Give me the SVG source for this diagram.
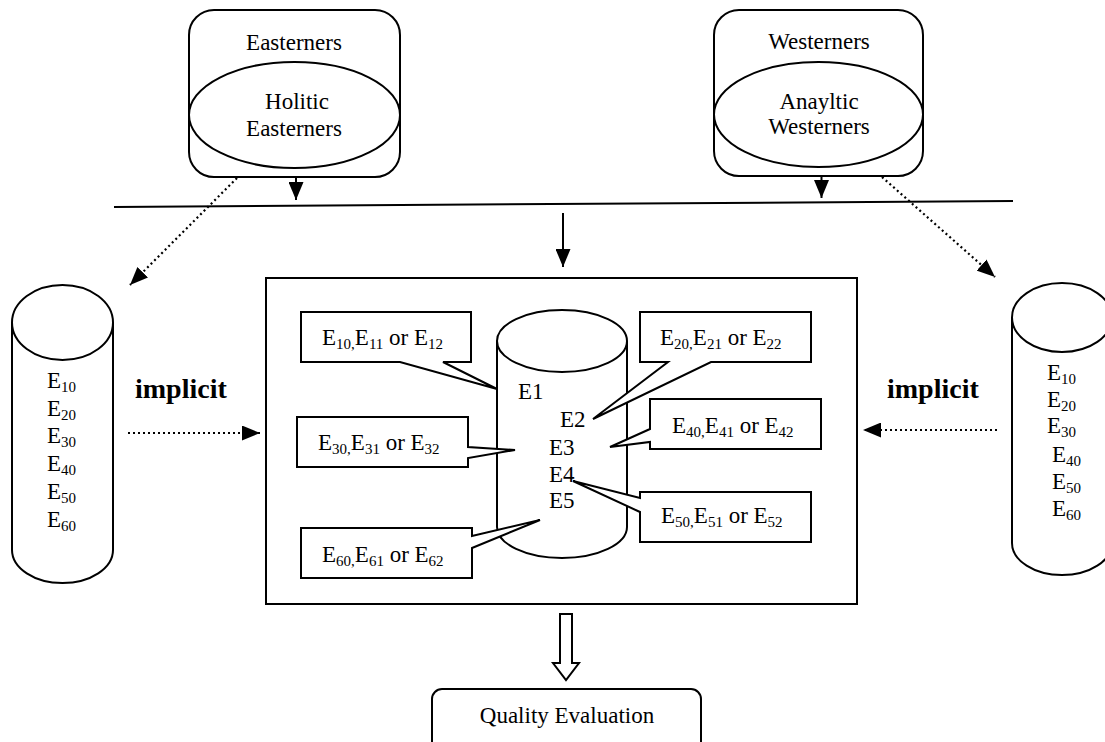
<svg xmlns="http://www.w3.org/2000/svg" width="1105" height="742" viewBox="0 0 1105 742" font-family="'Liberation Serif', 'Times New Roman', Times, 'DejaVu Serif', serif">
<style>
.s{fill:none;stroke:#000;stroke-width:2}
.w{fill:#fff;stroke:#000;stroke-width:2}
.t{font-size:23px;fill:#000}
.b{font-size:28px;font-weight:bold;fill:#000}
.sub{font-size:15px}
.dot{fill:none;stroke:#000;stroke-width:2.2;stroke-dasharray:2 3}
</style>
<defs>
<marker id="ah" markerUnits="userSpaceOnUse" markerWidth="18" markerHeight="15" refX="18" refY="7.5" orient="auto">
<path d="M0,0 L18,7.5 L0,15 Z" fill="#000"/>
</marker>
</defs>

<g id="easterners">
<rect class="w" x="189" y="10" width="211" height="167" rx="25"/>
<ellipse class="w" cx="294.5" cy="115" rx="105.5" ry="53"/>
<text class="t" x="294" y="50" text-anchor="middle">Easterners</text>
<text class="t" x="297" y="109" text-anchor="middle">Holitic</text>
<text class="t" x="294" y="136" text-anchor="middle">Easterners</text>
</g>

<g id="westerners">
<rect class="w" x="714" y="10" width="209" height="166" rx="25"/>
<ellipse class="w" cx="818.5" cy="114.5" rx="104.5" ry="52.5"/>
<text class="t" x="819" y="49" text-anchor="middle">Westerners</text>
<text class="t" x="819" y="109" text-anchor="middle">Anayltic</text>
<text class="t" x="819" y="134" text-anchor="middle">Westerners</text>
</g>

<g id="left-cylinder">
<path class="w" d="M12,322.5 V550 A50.5,33 0 0 0 113,550 V322.5"/>
<ellipse class="w" cx="62.5" cy="322.5" rx="50.5" ry="37.5"/>
<text class="t" x="47" y="388">E<tspan class="sub" dy="4">10</tspan></text>
<text class="t" x="47" y="416">E<tspan class="sub" dy="4">20</tspan></text>
<text class="t" x="47" y="443">E<tspan class="sub" dy="4">30</tspan></text>
<text class="t" x="47" y="471">E<tspan class="sub" dy="4">40</tspan></text>
<text class="t" x="47" y="499">E<tspan class="sub" dy="4">50</tspan></text>
<text class="t" x="47" y="527">E<tspan class="sub" dy="4">60</tspan></text>
</g>

<g id="right-cylinder">
<path class="w" d="M1012,317.5 V543 A50,32 0 0 0 1112,543 V317.5"/>
<ellipse class="w" cx="1062" cy="317.5" rx="50" ry="34.5"/>
<text class="t" x="1047" y="380">E<tspan class="sub" dy="4">10</tspan></text>
<text class="t" x="1047" y="407">E<tspan class="sub" dy="4">20</tspan></text>
<text class="t" x="1047" y="433">E<tspan class="sub" dy="4">30</tspan></text>
<text class="t" x="1052" y="462">E<tspan class="sub" dy="4">40</tspan></text>
<text class="t" x="1052" y="489">E<tspan class="sub" dy="4">50</tspan></text>
<text class="t" x="1052" y="516">E<tspan class="sub" dy="4">60</tspan></text>
</g>

<g id="implicit-left">
<text class="b" x="135" y="398">implicit</text>
</g>
<g id="implicit-right">
<text class="b" x="887" y="398">implicit</text>
</g>

<g id="main-box">
<rect class="w" x="266" y="278" width="591" height="326"/>
</g>

<g id="inner-cylinder">
<path class="w" d="M497,341 V527 A65,31 0 0 0 627,527 V341"/>
<ellipse class="w" cx="562" cy="341" rx="65" ry="31"/>
<text class="t" x="518" y="399">E1</text>
<text class="t" x="560" y="427">E2</text>
<text class="t" x="549" y="455">E3</text>
<text class="t" x="549" y="482">E4</text>
<text class="t" x="549" y="508">E5</text>
</g>

<g id="callout-1">
<path class="w" d="M301,312 H471 V362 H443 L497,389 L400,362 H301 Z"/>
<text class="t" x="322" y="345">E<tspan class="sub" dy="4">10,</tspan><tspan dy="-4">E</tspan><tspan class="sub" dy="4">11</tspan><tspan dy="-4"> or E</tspan><tspan class="sub" dy="4">12</tspan></text>
</g>
<g id="callout-3">
<path class="w" d="M297,417 H468 V447 L515,450 L468,458 V467 H297 Z"/>
<text class="t" x="318" y="450">E<tspan class="sub" dy="4">30,</tspan><tspan dy="-4">E</tspan><tspan class="sub" dy="4">31</tspan><tspan dy="-4"> or E</tspan><tspan class="sub" dy="4">32</tspan></text>
</g>
<g id="callout-6">
<path class="w" d="M301,528 H472 V536 L540,520 L472,548 V578 H301 Z"/>
<text class="t" x="322" y="562">E<tspan class="sub" dy="4">60,</tspan><tspan dy="-4">E</tspan><tspan class="sub" dy="4">61</tspan><tspan dy="-4"> or E</tspan><tspan class="sub" dy="4">62</tspan></text>
</g>
<g id="callout-2">
<path class="w" d="M640,312 H811 V362 H711 L593,419 L668,362 H640 Z"/>
<text class="t" x="660" y="345">E<tspan class="sub" dy="4">20,</tspan><tspan dy="-4">E</tspan><tspan class="sub" dy="4">21</tspan><tspan dy="-4"> or E</tspan><tspan class="sub" dy="4">22</tspan></text>
</g>
<g id="callout-4">
<path class="w" d="M650,399 H821 V449 H650 V442 L610,447 L650,429 Z"/>
<text class="t" x="672" y="433">E<tspan class="sub" dy="4">40,</tspan><tspan dy="-4">E</tspan><tspan class="sub" dy="4">41</tspan><tspan dy="-4"> or E</tspan><tspan class="sub" dy="4">42</tspan></text>
</g>
<g id="callout-5">
<path class="w" d="M640,492 H811 V542 H640 V512 L573,481 L640,498 Z"/>
<text class="t" x="661" y="523">E<tspan class="sub" dy="4">50,</tspan><tspan dy="-4">E</tspan><tspan class="sub" dy="4">51</tspan><tspan dy="-4"> or E</tspan><tspan class="sub" dy="4">52</tspan></text>
</g>

<g id="quality">
<rect class="w" x="432" y="689" width="269" height="70" rx="10"/>
<text class="t" x="567" y="723" text-anchor="middle">Quality Evaluation</text>
</g>

<g id="connectors">
<line class="s" x1="114" y1="207" x2="1013" y2="201"/>
<line class="s" x1="296" y1="177" x2="296" y2="200" marker-end="url(#ah)"/>
<line class="s" x1="821.5" y1="176" x2="821.5" y2="198" marker-end="url(#ah)"/>
<line class="s" x1="563" y1="213" x2="563" y2="267" marker-end="url(#ah)"/>
<line class="dot" x1="237" y1="178" x2="130" y2="285" marker-end="url(#ah)"/>
<line class="dot" x1="882" y1="177" x2="995" y2="277" marker-end="url(#ah)"/>
<line class="dot" x1="128" y1="433" x2="260" y2="433" marker-end="url(#ah)"/>
<line class="dot" x1="997" y1="430" x2="863" y2="430" marker-end="url(#ah)"/>
<polygon class="w" points="560,614 572,614 572,663 579,663 566,680 553,663 560,663"/>
</g>
</svg>
